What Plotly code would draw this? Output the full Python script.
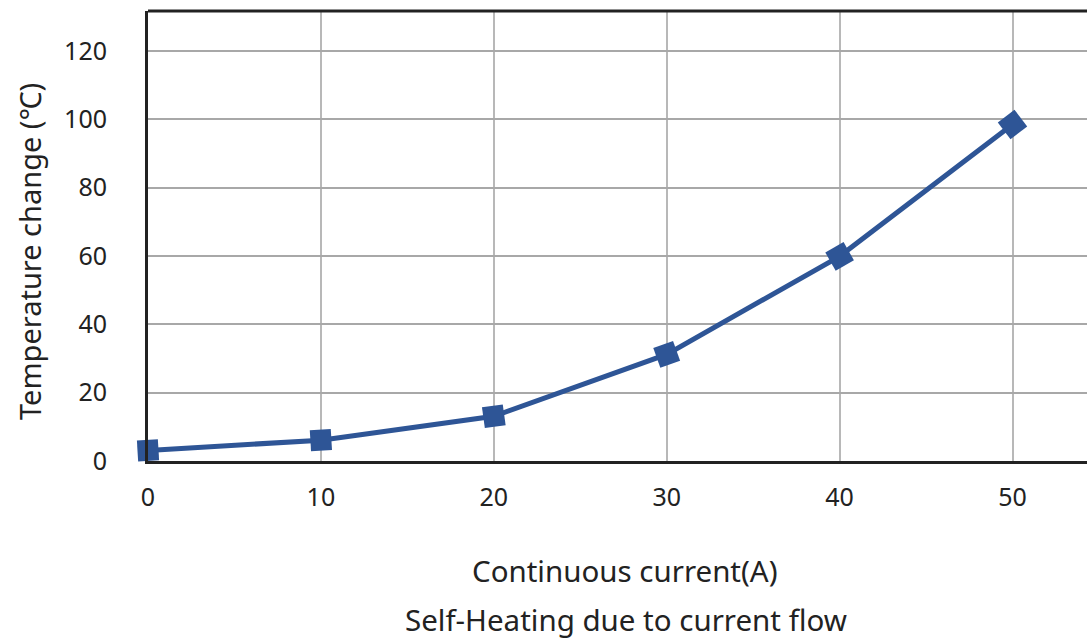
import math
import plotly.graph_objects as go

current = [0, 10, 20, 30, 40, 50]
temp_change = [3.1, 6.1, 13.1, 31.2, 59.9, 98.5]
x_ticks = [0, 10, 20, 30, 40, 50]
y_ticks = [0, 20, 40, 60, 80, 100, 120]

W, H = 1087, 641
L, R, T, B = 148, 0, 11, 180
pw, ph = W - L - R, H - T - B
XS = 17.29           # px per x unit
YMAX = 131.7
YS = ph / YMAX       # px per y unit

def px(x):
    return (x - L) / pw

def py(y):
    return (H - B - y) / ph

# marker rotation follows the line direction (on screen)
angles = []
for i in range(len(current)):
    j0, j1 = (0, 1) if i == 0 else (i - 1, i)
    dx = (current[j1] - current[j0]) * XS
    dy = -(temp_change[j1] - temp_change[j0]) * YS
    angles.append(math.degrees(math.atan2(dy, dx)))

blue = "#2e5596"
font = "Noto Sans, Open Sans, DejaVu Sans, sans-serif"
ink = "#222222"

fig = go.Figure()
fig.add_trace(go.Scatter(
    x=current, y=temp_change, mode="lines+markers",
    line=dict(color=blue, width=5),
    marker=dict(symbol="square", size=21, color=blue, angle=angles),
    showlegend=False, cliponaxis=False,
))

fig.update_layout(
    width=W, height=H,
    margin=dict(l=L, r=R, t=T, b=B),
    plot_bgcolor="white", paper_bgcolor="white",
    font=dict(family=font, size=25, color=ink),
    xaxis=dict(range=[0, pw / XS], tickvals=x_ticks, showgrid=True,
               gridcolor="#b8b8b8", gridwidth=2, zeroline=False,
               showline=True, linecolor=ink, linewidth=3,
               ticks="", ticklabelstandoff=12,
               tickfont=dict(size=25, color=ink)),
    yaxis=dict(range=[0, YMAX], tickvals=y_ticks, showgrid=True,
               gridcolor="#a8a8a8", gridwidth=2, zeroline=False,
               showline=True, linecolor=ink, linewidth=3,
               ticks="", ticklabelstandoff=33,
               tickfont=dict(size=25, color=ink)),
    shapes=[dict(type="line", xref="paper", yref="paper", x0=0, x1=1, y0=1, y1=1,
                 line=dict(color=ink, width=3))],
    annotations=[
        dict(text="Continuous current(A)", xref="paper", yref="paper",
             x=px(625), y=py(570), showarrow=False, xanchor="center", yanchor="middle",
             font=dict(size=29.5, color=ink, family=font)),
        dict(text="Self-Heating due to current flow", xref="paper", yref="paper",
             x=px(626), y=py(619), showarrow=False, xanchor="center", yanchor="middle",
             font=dict(size=29.5, color=ink, family=font)),
        dict(text="Temperature change (℃)", xref="paper", yref="paper",
             x=px(29), y=py(252), showarrow=False, xanchor="center", yanchor="middle",
             textangle=-90,
             font=dict(size=29, color=ink, family=font)),
    ],
)

fig.write_html("out.html",
               config={"displayModeBar": False},
               post_script="document.body.style.margin='0';document.body.style.overflow='hidden';")
